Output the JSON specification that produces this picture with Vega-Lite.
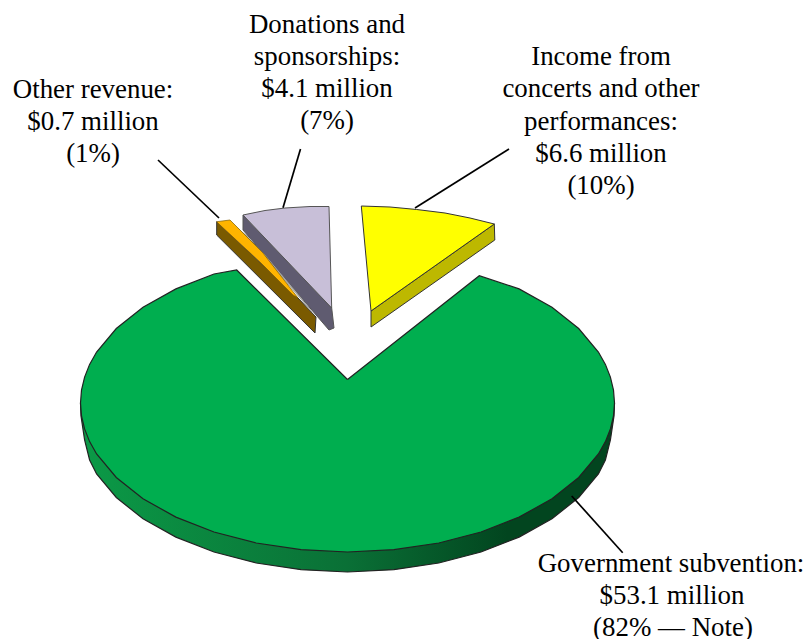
{
  "$schema": "https://vega.github.io/schema/vega-lite/v6.json",
  "width": 806,
  "height": 639,
  "padding": 0,
  "autosize": {"type": "none"},
  "background": "white",
  "view": {"stroke": null},
  "datasets": {
    "outlines": [
      {"part":"govSide","seq":1,"x":80.5,"y":403},{"part":"govSide","seq":2,"x":81,"y":416},{"part":"govSide","seq":3,"x":84.6,"y":440},{"part":"govSide","seq":4,"x":89.6,"y":460},{"part":"govSide","seq":5,"x":96.6,"y":474},{"part":"govSide","seq":6,"x":116.3,"y":497.5},{"part":"govSide","seq":7,"x":143,"y":518.8},{"part":"govSide","seq":8,"x":175.9,"y":537.1},{"part":"govSide","seq":9,"x":214,"y":552},{"part":"govSide","seq":10,"x":256.2,"y":563},{"part":"govSide","seq":11,"x":301.1,"y":569.7},{"part":"govSide","seq":12,"x":347.5,"y":572},{"part":"govSide","seq":13,"x":393.9,"y":569.7},{"part":"govSide","seq":14,"x":438.8,"y":563},{"part":"govSide","seq":15,"x":481,"y":552},{"part":"govSide","seq":16,"x":519.1,"y":537.1},{"part":"govSide","seq":17,"x":552,"y":518.8},{"part":"govSide","seq":18,"x":578.7,"y":497.5},{"part":"govSide","seq":19,"x":598.4,"y":474},{"part":"govSide","seq":20,"x":605.4,"y":460},{"part":"govSide","seq":21,"x":610.4,"y":440},{"part":"govSide","seq":22,"x":614,"y":416},{"part":"govSide","seq":23,"x":614.5,"y":403},

      {"part":"govTop","seq":1,"x":347.5,"y":379.5},{"part":"govTop","seq":2,"x":236.7,"y":270},{"part":"govTop","seq":3,"x":214,"y":274},{"part":"govTop","seq":4,"x":175.9,"y":288.9},{"part":"govTop","seq":5,"x":143,"y":307.2},{"part":"govTop","seq":6,"x":116.3,"y":328.5},{"part":"govTop","seq":7,"x":96.6,"y":352},{"part":"govTop","seq":8,"x":89.6,"y":364.4},{"part":"govTop","seq":9,"x":84.6,"y":377.1},{"part":"govTop","seq":10,"x":81.5,"y":390},{"part":"govTop","seq":11,"x":80.5,"y":403},{"part":"govTop","seq":12,"x":81.5,"y":416},{"part":"govTop","seq":13,"x":84.6,"y":428.9},{"part":"govTop","seq":14,"x":89.6,"y":441.6},{"part":"govTop","seq":15,"x":96.6,"y":454},{"part":"govTop","seq":16,"x":116.3,"y":477.5},{"part":"govTop","seq":17,"x":143,"y":498.8},{"part":"govTop","seq":18,"x":175.9,"y":517.1},{"part":"govTop","seq":19,"x":214,"y":532},{"part":"govTop","seq":20,"x":256.2,"y":543},{"part":"govTop","seq":21,"x":301.1,"y":549.7},{"part":"govTop","seq":22,"x":347.5,"y":552},{"part":"govTop","seq":23,"x":393.9,"y":549.7},{"part":"govTop","seq":24,"x":438.8,"y":543},{"part":"govTop","seq":25,"x":481,"y":532},{"part":"govTop","seq":26,"x":519.1,"y":517.1},{"part":"govTop","seq":27,"x":552,"y":498.8},{"part":"govTop","seq":28,"x":578.7,"y":477.5},{"part":"govTop","seq":29,"x":598.4,"y":454},{"part":"govTop","seq":30,"x":605.4,"y":441.6},{"part":"govTop","seq":31,"x":610.4,"y":428.9},{"part":"govTop","seq":32,"x":613.5,"y":416},{"part":"govTop","seq":33,"x":614.5,"y":403},{"part":"govTop","seq":34,"x":613.5,"y":390},{"part":"govTop","seq":35,"x":610.4,"y":377.1},{"part":"govTop","seq":36,"x":605.4,"y":364.4},{"part":"govTop","seq":37,"x":598.4,"y":352},{"part":"govTop","seq":38,"x":578.7,"y":328.5},{"part":"govTop","seq":39,"x":552,"y":307.2},{"part":"govTop","seq":40,"x":519.1,"y":288.9},{"part":"govTop","seq":41,"x":479.3,"y":275.7},{"part":"govTop","seq":42,"x":347.5,"y":379.5},

      {"part":"yellowSide","seq":1,"x":371,"y":311},{"part":"yellowSide","seq":2,"x":494.3,"y":224},{"part":"yellowSide","seq":3,"x":494.8,"y":240},{"part":"yellowSide","seq":4,"x":371,"y":327},{"part":"yellowSide","seq":5,"x":371,"y":311},
      {"part":"yellowTop","seq":1,"x":371,"y":311},{"part":"yellowTop","seq":2,"x":361.3,"y":206},{"part":"yellowTop","seq":3,"x":390,"y":207},{"part":"yellowTop","seq":4,"x":416.7,"y":209.5},{"part":"yellowTop","seq":5,"x":445,"y":213},{"part":"yellowTop","seq":6,"x":470,"y":218},{"part":"yellowTop","seq":7,"x":494.3,"y":224},{"part":"yellowTop","seq":8,"x":371,"y":311},

      {"part":"purpleSide","seq":1,"x":243,"y":215},{"part":"purpleSide","seq":2,"x":331.7,"y":308},{"part":"purpleSide","seq":3,"x":334,"y":328},{"part":"purpleSide","seq":4,"x":329,"y":330},{"part":"purpleSide","seq":5,"x":243,"y":230},{"part":"purpleSide","seq":6,"x":243,"y":215},
      {"part":"purpleTop","seq":1,"x":331.7,"y":308},{"part":"purpleTop","seq":2,"x":243,"y":215},{"part":"purpleTop","seq":3,"x":265,"y":210.5},{"part":"purpleTop","seq":4,"x":285,"y":208},{"part":"purpleTop","seq":5,"x":310,"y":206.5},{"part":"purpleTop","seq":6,"x":329,"y":206.5},{"part":"purpleTop","seq":7,"x":331.7,"y":308},

      {"part":"greyStrip","seq":1,"x":237,"y":228},{"part":"greyStrip","seq":2,"x":247,"y":236},{"part":"greyStrip","seq":3,"x":312,"y":312},{"part":"greyStrip","seq":4,"x":300,"y":297},{"part":"greyStrip","seq":5,"x":263,"y":253},{"part":"greyStrip","seq":6,"x":237,"y":228},

      {"part":"orangeSide","seq":1,"x":216.7,"y":221.7},{"part":"orangeSide","seq":2,"x":298,"y":298},{"part":"orangeSide","seq":3,"x":316,"y":317},{"part":"orangeSide","seq":4,"x":315,"y":333},{"part":"orangeSide","seq":5,"x":216.7,"y":235},{"part":"orangeSide","seq":6,"x":216.7,"y":221.7},
      {"part":"orangeTop","seq":1,"x":216.7,"y":221.7},{"part":"orangeTop","seq":2,"x":230,"y":220},{"part":"orangeTop","seq":3,"x":263,"y":253},{"part":"orangeTop","seq":4,"x":298,"y":298},{"part":"orangeTop","seq":5,"x":293,"y":295},{"part":"orangeTop","seq":6,"x":260,"y":262},{"part":"orangeTop","seq":7,"x":220,"y":225},{"part":"orangeTop","seq":8,"x":216.7,"y":221.7}
    ],
    "leaders": [
      {"from":"Other revenue","x":158,"y":160,"x2":219,"y2":218},
      {"from":"Donations","x":300.5,"y":149,"x2":283,"y2":207.7},
      {"from":"Income","x":509,"y":149,"x2":415,"y2":208},
      {"from":"Government","x":571.7,"y":496,"x2":622.7,"y2":552.7}
    ],
    "labels": [
      {"text":"Other revenue:","x":93,"y":90},
      {"text":"$0.7 million","x":93,"y":122},
      {"text":"(1%)","x":93,"y":154},
      {"text":"Donations and","x":327,"y":25},
      {"text":"sponsorships:","x":327,"y":57},
      {"text":"$4.1 million","x":327,"y":89},
      {"text":"(7%)","x":327,"y":121},
      {"text":"Income from","x":601,"y":57},
      {"text":"concerts and other","x":601,"y":89},
      {"text":"performances:","x":601,"y":122},
      {"text":"$6.6 million","x":601,"y":154},
      {"text":"(10%)","x":601,"y":186},
      {"text":"Government subvention:","x":671,"y":564},
      {"text":"$53.1 million","x":672,"y":596},
      {"text":"(82% — Note)","x":673,"y":628}
    ]
  },
  "encoding": {
    "x": {"field": "x", "type": "quantitative", "scale": {"domain": [0, 806], "nice": false, "zero": false}, "axis": null},
    "y": {"field": "y", "type": "quantitative", "scale": {"domain": [639, 0], "nice": false, "zero": false}, "axis": null}
  },
  "layer": [
    {"data": {"name": "outlines"}, "transform": [{"filter": "datum.part === 'govSide'"}],
     "mark": {"type": "line", "stroke": "#222222", "strokeWidth": 1.2, "fill": {"x1": 0, "y1": 0, "x2": 1, "y2": 0, "gradient": "linear", "stops": [{"offset": 0, "color": "#0b9a47"}, {"offset": 0.5, "color": "#0a7036"}, {"offset": 0.8, "color": "#02451f"}, {"offset": 1, "color": "#02451f"}]}},
     "encoding": {"order": {"field": "seq", "type": "quantitative"}}},
    {"data": {"name": "outlines"}, "transform": [{"filter": "datum.part === 'govTop'"}],
     "mark": {"type": "line", "stroke": "#222222", "strokeWidth": 1.2, "fill": "#00ae4f"},
     "encoding": {"order": {"field": "seq", "type": "quantitative"}}},
    {"data": {"name": "outlines"}, "transform": [{"filter": "datum.part === 'yellowSide'"}],
     "mark": {"type": "line", "stroke": "#333333", "strokeWidth": 1, "fill": "#bdb800"},
     "encoding": {"order": {"field": "seq", "type": "quantitative"}}},
    {"data": {"name": "outlines"}, "transform": [{"filter": "datum.part === 'yellowTop'"}],
     "mark": {"type": "line", "stroke": "#333333", "strokeWidth": 1, "fill": "#ffff00"},
     "encoding": {"order": {"field": "seq", "type": "quantitative"}}},
    {"data": {"name": "outlines"}, "transform": [{"filter": "datum.part === 'purpleSide'"}],
     "mark": {"type": "line", "stroke": "#555555", "strokeWidth": 1, "fill": "#5f5b70"},
     "encoding": {"order": {"field": "seq", "type": "quantitative"}}},
    {"data": {"name": "outlines"}, "transform": [{"filter": "datum.part === 'purpleTop'"}],
     "mark": {"type": "line", "stroke": "#555555", "strokeWidth": 1, "fill": "#c8bfd8"},
     "encoding": {"order": {"field": "seq", "type": "quantitative"}}},
    {"data": {"name": "outlines"}, "transform": [{"filter": "datum.part === 'orangeSide'"}],
     "mark": {"type": "line", "stroke": "#333333", "strokeWidth": 1, "fill": "#7a5a00"},
     "encoding": {"order": {"field": "seq", "type": "quantitative"}}},
    {"data": {"name": "outlines"}, "transform": [{"filter": "datum.part === 'greyStrip'"}],
     "mark": {"type": "line", "stroke": "#a8a8a8", "strokeWidth": 1, "fill": "#a0a0a0"},
     "encoding": {"order": {"field": "seq", "type": "quantitative"}}},
    {"data": {"name": "outlines"}, "transform": [{"filter": "datum.part === 'orangeTop'"}],
     "mark": {"type": "line", "stroke": "#7a5a00", "strokeWidth": 0.7, "fill": "#ffb400"},
     "encoding": {"order": {"field": "seq", "type": "quantitative"}}},
    {"data": {"name": "leaders"},
     "mark": {"type": "rule", "color": "#000000", "strokeWidth": 1.7},
     "encoding": {"x2": {"field": "x2"}, "y2": {"field": "y2"}}},
    {"data": {"name": "labels"},
     "mark": {"type": "text", "font": "Liberation Serif", "fontSize": 26.9, "color": "#000000", "align": "center", "baseline": "middle"},
     "encoding": {"text": {"field": "text", "type": "nominal"}}}
  ]
}
